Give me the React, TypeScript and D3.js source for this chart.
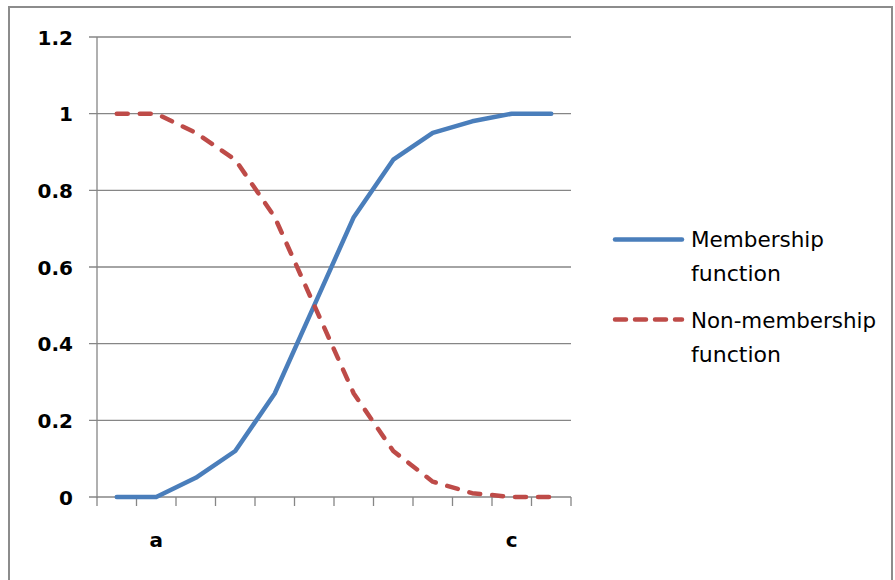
import React from "react";
import * as d3 from "d3";

const categories = ["", "a", "", "", "", "", "", "", "", "", "c", ""];
const membership = [0, 0, 0.05, 0.12, 0.27, 0.5, 0.73, 0.88, 0.95, 0.98, 1, 1];
const nonMembership = [1, 1, 0.95, 0.88, 0.73, 0.5, 0.27, 0.12, 0.04, 0.01, 0, 0];
const yTicks = [0, 0.2, 0.4, 0.6, 0.8, 1, 1.2];
const seriesNames = [["Membership", "function"], ["Non-membership", "function"]];

const W = 895, H = 580;
const PL = 97, PR = 571, PT = 37, PB = 497;
const BLUE = "#4a7ebb", RED = "#be4b48", GRID = "#868686";
const FONT = "'DejaVu Sans', Verdana, sans-serif";

export default function App() {
  const idx = categories.map((_, i) => i);
  const x = d3.scaleBand<number>().domain(idx).range([PL, PR]).paddingInner(0).paddingOuter(0);
  const y = d3.scaleLinear().domain([0, 1.2]).range([PB, PT]);
  const cx = (i: number) => (x(i) as number) + x.bandwidth() / 2;
  const line = d3.line<number>().x((_, i) => cx(i)).y((d) => y(d));
  const tickXs = idx.map((i) => x(i) as number).concat([PR]);

  const legendTextLens = [[133, 90], [185, 90]];

  return (
    <svg width={W} height={H} style={{ position: "absolute", left: 0, top: 0, background: "#fff" }}>
      <rect x={9} y={7} width={883} height={590} fill="#fff" stroke="#8c8c8c" strokeWidth={2} />
      {yTicks.map((t) => (
        <g key={t}>
          <line x1={89} x2={PR} y1={y(t)} y2={y(t)} stroke={GRID} strokeWidth={1.3} />
          <text x={73} y={y(t) + 7.5} textAnchor="end" fontFamily={FONT} fontSize={20} fontWeight="bold" fill="#000">
            {String(t)}
          </text>
        </g>
      ))}
      <line x1={PL} x2={PL} y1={PT} y2={PB + 1} stroke={GRID} strokeWidth={1.3} />
      {tickXs.map((tx, i) => (
        <line key={i} x1={tx} x2={tx} y1={PB} y2={PB + 9} stroke={GRID} strokeWidth={1.3} />
      ))}
      {categories.map((c, i) =>
        c ? (
          <text key={i} x={cx(i)} y={547} textAnchor="middle" fontFamily={FONT} fontSize={20} fontWeight="bold" fill="#000">
            {c}
          </text>
        ) : null
      )}
      <path d={line(membership) || ""} fill="none" stroke={BLUE} strokeWidth={4.5} strokeLinejoin="round" strokeLinecap="round" />
      <path d={line(nonMembership) || ""} fill="none" stroke={RED} strokeWidth={4.5} strokeDasharray="11 12" strokeLinejoin="round" strokeLinecap="round" />

      {/* legend */}
      <line x1={615} x2={682} y1={239.5} y2={239.5} stroke={BLUE} strokeWidth={4.5} strokeLinecap="round" />
      <line x1={615} x2={682} y1={319.5} y2={319.5} stroke={RED} strokeWidth={4.5} strokeLinecap="round" strokeDasharray="11 9" />
      {seriesNames.map((lines, s) =>
        lines.map((t, k) => (
          <text
            key={s + "-" + k}
            x={691}
            y={247 + s * 81 + k * 33.5}
            fontFamily={FONT}
            fontSize={22}
            fill="#000"
            textLength={legendTextLens[s][k]}
            lengthAdjust="spacingAndGlyphs"
          >
            {t}
          </text>
        ))
      )}
    </svg>
  );
}
